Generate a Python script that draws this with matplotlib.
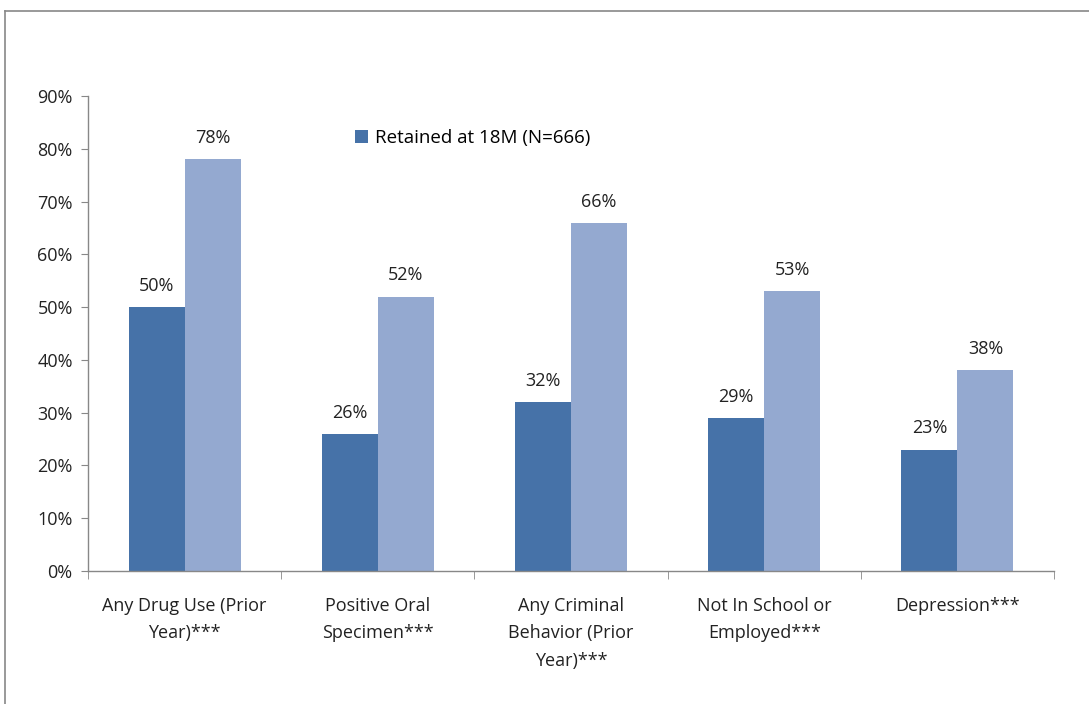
import matplotlib
matplotlib.use("Agg")
import matplotlib.pyplot as plt
from matplotlib.lines import Line2D
import numpy as np

categories = ["Any Drug Use (Prior\nYear)***", "Positive Oral\nSpecimen***",
              "Any Criminal\nBehavior (Prior\nYear)***", "Not In School or\nEmployed***",
              "Depression***"]
retained = [50, 26, 32, 29, 23]
other = [78, 52, 66, 53, 38]
series_names = ["Retained at 18M (N=666)"]
yticks = [0, 10, 20, 30, 40, 50, 60, 70, 80, 90]

plt.rcParams['font.family'] = ['Open Sans', 'DejaVu Sans']
FS = 13

fig = plt.figure(figsize=(10.89, 7.04), dpi=100)
ax = fig.add_axes([88/1089, 1-571/704, (1054-88)/1089, (571-96)/704])

x = np.arange(len(categories))
w = 0.29
c1 = "#4672A8"
c2 = "#94A9D0"
b1 = ax.bar(x - w/2, retained, w, color=c1, label=series_names[0])
b2 = ax.bar(x + w/2, other, w, color=c2)

for rect, v in zip(b1, retained):
    ax.text(rect.get_x() + rect.get_width()/2, v + 2.3, f"{v}%", ha="center", va="bottom", fontsize=FS, color="#222222")
for rect, v in zip(b2, other):
    ax.text(rect.get_x() + rect.get_width()/2, v + 2.3, f"{v}%", ha="center", va="bottom", fontsize=FS, color="#222222")

ax.set_xlim(-0.5, len(categories) - 0.5)
ax.set_ylim(0, 90)
ax.set_yticks(yticks)
ax.set_yticklabels([f"{t}%" for t in yticks], fontsize=FS, color="#222222")
ax.set_xticks(x)
ax.set_xticklabels(categories, fontsize=FS, color="#222222", linespacing=1.65, va="top")
ax.tick_params(axis="x", which="major", length=0, pad=19)
ax.set_xticks(np.arange(-0.5, len(categories), 1), minor=True)
ax.tick_params(axis="x", which="minor", length=6, color="#888888", direction="out")
ax.tick_params(axis="y", length=5, color="#888888", direction="out", pad=6)

for s in ["top", "right"]:
    ax.spines[s].set_visible(False)
for s in ["left", "bottom"]:
    ax.spines[s].set_color("#888888")
    ax.spines[s].set_linewidth(1)

leg = ax.legend(loc="upper left", bbox_to_anchor=(0.259, 0.966), frameon=False, fontsize=FS+0.5,
                handlelength=0.7, handleheight=0.7, handletextpad=0.35)

fig.add_artist(Line2D([5/1089, 1.0], [1-11/704, 1-11/704], color="#888888", lw=1.2, transform=fig.transFigure))
fig.add_artist(Line2D([5/1089, 5/1089], [0, 1-11/704], color="#888888", lw=1.2, transform=fig.transFigure))

fig.savefig("out.png", dpi=100)
